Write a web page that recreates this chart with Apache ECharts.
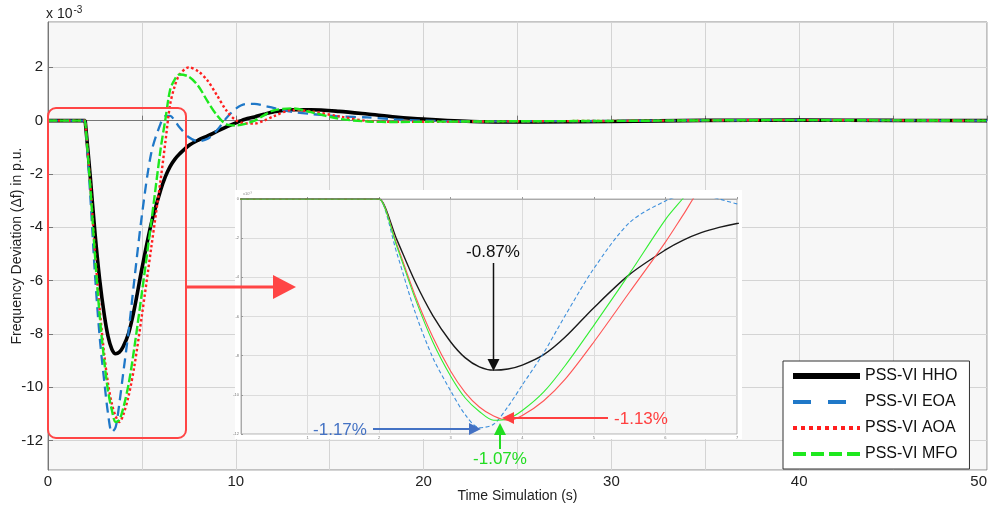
<!DOCTYPE html>
<html><head><meta charset="utf-8">
<script src="https://cdn.jsdelivr.net/npm/echarts@6/dist/echarts.min.js"></script>
<style>html,body{margin:0;padding:0;background:#fff}#c{width:993px;height:508px}</style>
</head><body><div id="c"></div>
<script>
// ---- data, frequency deviation x 10^-3 p.u. ----
const time = [0, 1.98, 2, 2.25, 2.5, 2.75, 3, 3.2, 3.4, 3.6, 3.8, 4, 4.3, 4.6, 5, 5.5, 6, 6.25, 6.5, 6.75, 7, 7.5, 8, 8.5, 9, 9.5, 10, 10.5, 11, 11.5, 12, 13, 14, 15.5, 17, 18.5, 20, 23, 26, 30, 35, 40, 45, 50];
const hho = [0, 0, 0, -2.1, -4.2, -5.95, -7.3, -8.1, -8.57, -8.74, -8.68, -8.48, -7.95, -7.05, -5.55, -3.85, -2.6, -2.1, -1.72, -1.45, -1.25, -0.93, -0.73, -0.57, -0.4, -0.23, -0.08, 0.05, 0.14, 0.24, 0.33, 0.41, 0.41, 0.35, 0.25, 0.14, 0.06, -0.04, -0.05, -0.03, 0.01, 0.02, 0.01, 0];
const eoa = [0, 0, 0, -2.8, -5.75, -8.1, -9.8, -11.0, -11.68, -11.5, -10.6, -9.5, -7.85, -5.95, -3.55, -1.2, -0.1, 0.17, 0.18, 0.0, -0.25, -0.62, -0.77, -0.68, -0.36, 0.1, 0.45, 0.62, 0.63, 0.56, 0.48, 0.33, 0.25, 0.16, 0.12, 0.05, 0.0, -0.03, -0.02, -0.01, 0.01, 0.02, 0.01, 0];
const aoa = [0, 0, 0, -2.35, -4.9, -7.05, -8.8, -9.87, -10.62, -11.08, -11.3, -11.05, -10.3, -9.2, -7.3, -4.75, -2.2, -0.8, 0.6, 1.3, 1.72, 2.0, 1.85, 1.5, 0.95, 0.38, 0.02, -0.1, -0.11, 0.0, 0.16, 0.4, 0.35, 0.16, -0.01, -0.04, -0.04, -0.03, -0.02, -0.01, 0.01, 0.02, 0.01, 0];
const mfo = [0, 0, 0, -2.45, -5.05, -7.3, -9.05, -10.15, -10.85, -11.3, -11.22, -10.8, -9.85, -8.5, -6.45, -3.8, -1.05, 0.05, 1.15, 1.55, 1.73, 1.65, 1.3, 0.72, 0.2, -0.14, -0.18, -0.12, 0.0, 0.2, 0.38, 0.46, 0.32, 0.07, -0.03, -0.05, -0.04, -0.03, -0.02, -0.01, 0.01, 0.02, 0.01, 0];
const seriesNames = ['PSS-VI HHO', 'PSS-VI EOA', 'PSS-VI AOA', 'PSS-VI MFO'];
const annoLabels = ['-0.87%', '-1.17%', '-1.13%', '-1.07%'];
const xName = 'Time Simulation (s)';
const yName = 'Frequency Deviation (\u0394f) in p.u.';

const pairs = arr => time.map((t, i) => [t, arr[i]]);
const F = 'Liberation Sans, Arial, sans-serif';

const mainStyles = [
  {color: '#000000', width: 3.6, type: 'solid'},
  {color: '#1f78c8', width: 2.3, type: [10, 6]},
  {color: '#ff1f1f', width: 2.4, type: [2.5, 2.5]},
  {color: '#1ee81e', width: 2.4, type: [9, 3]}
];
const insetStyles = [
  {color: '#1a1a1a', width: 1.4, type: 'solid'},
  {color: '#3d8fdc', width: 1.1, type: [4, 2.5]},
  {color: '#ff5555', width: 1.1, type: 'solid'},
  {color: '#33ee33', width: 1.1, type: 'solid'}
];
const dataSets = [hho, eoa, aoa, mfo];

const series = [];
dataSets.forEach((d, i) => {
  series.push({
    name: seriesNames[i], type: 'line', xAxisIndex: 0, yAxisIndex: 0,
    data: pairs(d), symbol: 'none', showSymbol: false, smooth: 0.3, z: 2 + i,
    lineStyle: mainStyles[i], itemStyle: {color: mainStyles[i].color}
  });
});
dataSets.forEach((d, i) => {
  series.push({
    name: seriesNames[i] + ' (zoom)', type: 'line', xAxisIndex: 1, yAxisIndex: 1,
    data: pairs(d), symbol: 'none', smooth: 0.3, z: 12, clip: true,
    lineStyle: insetStyles[i], silent: true
  });
});

const legendLine = (name, ls, color) => ({name: name, lineStyle: ls, itemStyle: {opacity: 0, color: color, borderWidth: 0}});

const chart = echarts.init(document.getElementById('c'), null, {renderer: 'canvas'});
const option = {
  animation: false,
  backgroundColor: '#ffffff',
  grid: [
    {left: 48, top: 22, right: 6, bottom: 38, outerBoundsMode: 'none', containLabel: false, show: true, backgroundColor: '#f7f7f7', borderColor: '#8a8a8a', borderWidth: 1},
    {left: 241, top: 199, width: 496, height: 235, outerBoundsMode: 'none', containLabel: false, show: true, backgroundColor: '#f7f7f7', borderColor: '#b0b0b0', borderWidth: 1, z: 10}
  ],
  xAxis: [
    {type: 'value', gridIndex: 0, min: 0, max: 50, interval: 5,
     name: xName, nameLocation: 'middle', nameGap: 19, nameMoveOverlap: false,
     nameTextStyle: {fontFamily: F, fontSize: 14, color: '#222'},
     axisLine: {lineStyle: {color: '#777'}},
     axisTick: {inside: true, length: 5, lineStyle: {color: '#777'}},
     axisLabel: {fontFamily: F, fontSize: 15, color: '#222', margin: 4, alignMaxLabel: 'right',
       formatter: v => (v % 10 === 0 ? String(v) : '')},
     splitLine: {show: true, lineStyle: {color: '#d4d4d4', width: 1}}},
    {type: 'value', gridIndex: 1, min: 0.07, max: 7, splitNumber: 7, z: 10,
     axisLine: {lineStyle: {color: '#aaa'}},
     axisTick: {inside: true, length: 2, lineStyle: {color: '#999'}},
     axisLabel: {fontFamily: F, fontSize: 4, color: '#777', margin: 2, showMinLabel: false},
     splitLine: {show: true, lineStyle: {color: '#dcdcdc', width: 1}}}
  ],
  yAxis: [
    {type: 'value', gridIndex: 0, min: -13.1, max: 3.7, splitNumber: 8,
     name: yName, nameLocation: 'middle', nameGap: 24, nameRotate: 90, nameMoveOverlap: false,
     nameTextStyle: {fontFamily: F, fontSize: 14, color: '#222'},
     axisLine: {lineStyle: {color: '#777'}},
     axisTick: {inside: true, length: 5, lineStyle: {color: '#777'}},
     axisLabel: {fontFamily: F, fontSize: 15, color: '#222', margin: 5, showMinLabel: false, showMaxLabel: false},
     splitLine: {show: true, lineStyle: {color: '#d4d4d4', width: 1}}},
    {type: 'value', gridIndex: 1, min: -12, max: 0, interval: 2, z: 10,
     axisLine: {lineStyle: {color: '#aaa'}},
     axisTick: {inside: true, length: 2, lineStyle: {color: '#999'}},
     axisLabel: {fontFamily: F, fontSize: 4, color: '#777', margin: 2},
     splitLine: {show: true, lineStyle: {color: '#dcdcdc', width: 1}}}
  ],
  legend: {
    orient: 'vertical', left: 783, top: 361, z: 30,
    backgroundColor: '#ffffff', borderColor: '#333', borderWidth: 1,
    padding: [7, 12, 7, 7], itemWidth: 67, itemHeight: 14, itemGap: 10,
    textStyle: {fontFamily: F, fontSize: 16, color: '#111'},
    data: [
      legendLine(seriesNames[0], {width: 6}, mainStyles[0].color),
      legendLine(seriesNames[1], {width: 4, type: [18, 17]}, mainStyles[1].color),
      legendLine(seriesNames[2], {width: 4, type: [4, 4]}, mainStyles[2].color),
      legendLine(seriesNames[3], {width: 4, type: [13, 5]}, mainStyles[3].color)
    ]
  },
  series: series,
  graphic: [
    // white panel behind the zoom inset
    {type: 'rect', z: 5, silent: true, shape: {x: 235, y: 190, width: 507, height: 249}, style: {fill: '#ffffff'}},
    // x 10^-3 multiplier
    {type: 'text', z: 20, left: 46, top: 5, style: {text: '{a|x 10}{b|-3}', rich: {a: {fontFamily: F, fontSize: 14, fill: '#222'}, b: {fontFamily: F, fontSize: 10, fill: '#222', verticalAlign: 'top', padding: [0, 0, 8, 1]}}}},
    {type: 'text', z: 20, left: 243, top: 192, style: {text: 'x10\u207B\u00B3', fontFamily: F, fontSize: 4, fill: '#888'}},
    // red highlight box and arrow
    {type: 'rect', z: 25, silent: true, shape: {x: 48, y: 108, width: 138, height: 330, r: 8}, style: {fill: 'none', stroke: '#ff4545', lineWidth: 2}},
    {type: 'line', z: 25, shape: {x1: 187, y1: 287, x2: 276, y2: 287}, style: {stroke: '#ff4545', lineWidth: 3}},
    {type: 'polygon', z: 25, shape: {points: [[273, 275], [296, 287], [273, 299]]}, style: {fill: '#ff4545'}},
    // -0.87% (black)
    {type: 'text', z: 25, x: 493, y: 252, style: {text: annoLabels[0], fontFamily: F, fontSize: 17, fill: '#111', align: 'center', verticalAlign: 'middle'}},
    {type: 'line', z: 25, shape: {x1: 493.5, y1: 263, x2: 493.5, y2: 361}, style: {stroke: '#111', lineWidth: 1.5}},
    {type: 'polygon', z: 25, shape: {points: [[487.5, 359], [499.5, 359], [493.5, 371]]}, style: {fill: '#111'}},
    // -1.17% (blue)
    {type: 'text', z: 25, x: 340, y: 430, style: {text: annoLabels[1], fontFamily: F, fontSize: 17, fill: '#4472c4', align: 'center', verticalAlign: 'middle'}},
    {type: 'line', z: 25, shape: {x1: 373, y1: 429, x2: 471, y2: 429}, style: {stroke: '#4472c4', lineWidth: 2}},
    {type: 'polygon', z: 25, shape: {points: [[469, 423], [481, 429], [469, 435]]}, style: {fill: '#4472c4'}},
    // -1.13% (red)
    {type: 'text', z: 25, x: 641, y: 419, style: {text: annoLabels[2], fontFamily: F, fontSize: 17, fill: '#ff4040', align: 'center', verticalAlign: 'middle'}},
    {type: 'line', z: 25, shape: {x1: 608, y1: 418, x2: 512, y2: 418}, style: {stroke: '#ff4040', lineWidth: 2}},
    {type: 'polygon', z: 25, shape: {points: [[514, 412], [502, 418], [514, 424]]}, style: {fill: '#ff4040'}},
    // -1.07% (green)
    {type: 'text', z: 25, x: 500, y: 459, style: {text: annoLabels[3], fontFamily: F, fontSize: 17, fill: '#22dd22', align: 'center', verticalAlign: 'middle'}},
    {type: 'line', z: 25, shape: {x1: 500, y1: 449, x2: 500, y2: 433}, style: {stroke: '#22dd22', lineWidth: 2}},
    {type: 'polygon', z: 25, shape: {points: [[494, 435], [506, 435], [500, 423]]}, style: {fill: '#22dd22'}}
  ]
};
chart.setOption(option);
</script>
</body></html>
